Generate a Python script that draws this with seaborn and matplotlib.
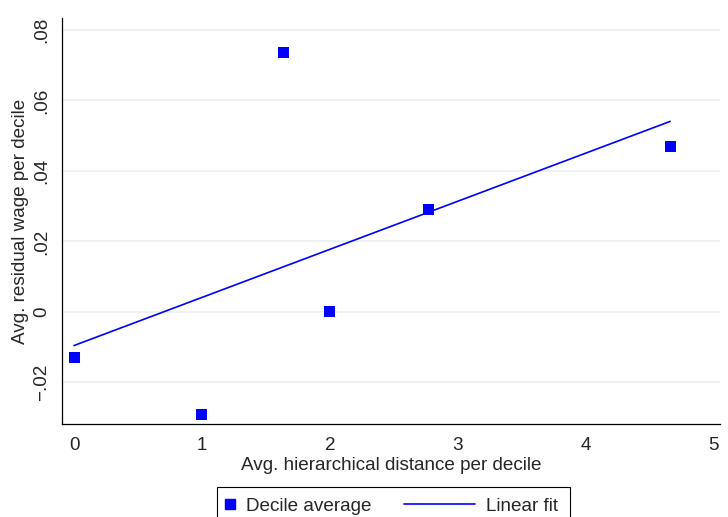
import numpy as np
import pandas as pd
import matplotlib
matplotlib.use("Agg")
import matplotlib.pyplot as plt
import matplotlib.patches as mpatches
import seaborn as sns
from matplotlib.lines import Line2D
from matplotlib.legend_handler import HandlerBase

# Decile averages
distance = [0.0, 1.0, 1.64, 2.0, 2.77, 4.66]
resid_wage = [-0.013, -0.029, 0.0735, 0.0, 0.029, 0.047]

x_ticks = [0, 1, 2, 3, 4, 5]
y_ticks = [-0.02, 0, 0.02, 0.04, 0.06, 0.08]
y_tick_labels = ["\u2212.02", "0", ".02", ".04", ".06", ".08"]

df = pd.DataFrame({"distance": distance, "resid_wage": resid_wage})

sns.set_style("white")
plt.rcParams["font.family"] = ["Liberation Sans", "DejaVu Sans"]
FS = 13.6


# legend keys: small square key, and a long line key that reaches left
class SquareKey(HandlerBase):
    def create_artists(self, legend, orig_handle, xdescent, ydescent,
                       width, height, fontsize, trans):
        m = Line2D([width / 2 - xdescent], [height / 2 - ydescent], marker="s",
                   ls="none", color="blue", markersize=7.9, transform=trans)
        return [m]


class LongLineKey(HandlerBase):
    def create_artists(self, legend, orig_handle, xdescent, ydescent,
                       width, height, fontsize, trans):
        y = height / 2 - ydescent
        ln = Line2D([width - xdescent - 3.75 * fontsize, width - xdescent], [y, y],
                    color="blue", lw=1.2, transform=trans)
        return [ln]


fig = plt.figure(figsize=(7.28, 5.17), dpi=100)
ax = fig.add_axes([62 / 728, (517 - 424) / 517, 658 / 728, (424 - 18) / 517])

# grid first so marks sit on top
for yv in y_ticks:
    ax.axhline(yv, color="#eaf1f2", lw=1.2, zorder=0)

sns.regplot(data=df, x="distance", y="resid_wage", scatter=False, ci=None,
            color="blue", line_kws={"lw": 1.2, "zorder": 2}, ax=ax)
sns.scatterplot(data=df, x="distance", y="resid_wage", marker="s", s=63,
                color="blue", edgecolor="none", zorder=3, ax=ax)

ax.set_xlim(-0.094, 5.05)
ax.set_ylim(-0.0318, 0.0834)
ax.set_xticks(x_ticks)
ax.set_xticklabels([str(t) for t in x_ticks])
ax.set_yticks(y_ticks)
ax.set_yticklabels(y_tick_labels, rotation=90, va="center")

ax.tick_params(axis="both", direction="out", length=5.5, width=0.8,
               color="black", labelsize=FS, pad=3)
ax.tick_params(axis="x", pad=4)
for side in ["top", "right"]:
    ax.spines[side].set_visible(False)
for side in ["left", "bottom"]:
    ax.spines[side].set_color("black")
    ax.spines[side].set_linewidth(0.9)

ax.set_xlabel("Avg. hierarchical distance per decile", fontsize=FS, labelpad=2)
ax.set_ylabel("Avg. residual wage per decile", fontsize=FS, labelpad=3)

# legend frame (runs off the bottom edge like the original)
frame = mpatches.Rectangle((217 / 728, -0.05), (570 - 217) / 728,
                           0.05 + (517 - 487) / 517, transform=fig.transFigure,
                           fill=False, edgecolor="black", lw=0.8)
fig.patches.append(frame)

h_dec = Line2D([], [], marker="s", color="blue", ls="none")
h_fit = Line2D([], [], color="blue")
leg = fig.legend([h_dec, h_fit], ["Decile average", "Linear fit"],
                 loc="center left", bbox_to_anchor=(224 / 728, 1 - 506 / 517),
                 ncol=2, fontsize=FS, frameon=False, handlelength=0.6,
                 handletextpad=0.58, columnspacing=4.87, borderpad=0,
                 borderaxespad=0,
                 handler_map={h_dec: SquareKey(), h_fit: LongLineKey()})

fig.savefig("out.png", dpi=100, facecolor="white")
